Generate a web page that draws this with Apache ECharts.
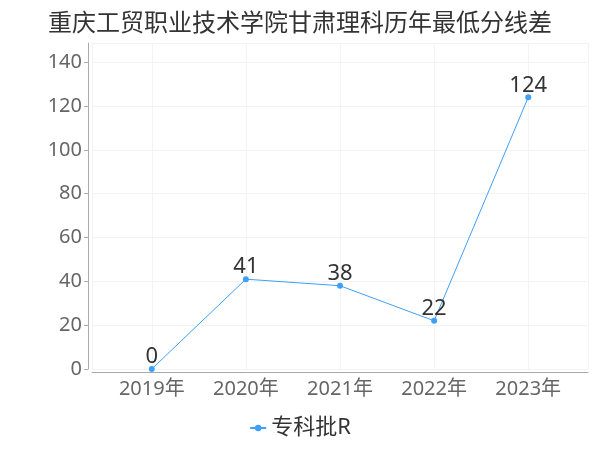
<!DOCTYPE html>
<html>
<head>
<meta charset="utf-8">
<script src="https://cdn.jsdelivr.net/npm/echarts@6/dist/echarts.min.js"></script>
<style>html,body{margin:0;padding:0;background:#fff}#c{width:600px;height:450px}</style>
</head>
<body>
<div id="c"></div>
<script>
var titleText = '重庆工贸职业技术学院甘肃理科历年最低分线差';
var categories = ['2019年', '2020年', '2021年', '2022年', '2023年'];
var seriesName = '专科批R';
var values = [0, 41, 38, 22, 124];
var yMax = 148.8;

var chart = echarts.init(document.getElementById('c'));
var pts = values.map(function (v, i) { return [i, v]; });
chart.setOption({
  animation: false,
  backgroundColor: '#fff',
  title: {
    text: titleText,
    left: 'center',
    top: 5,
    textStyle: { fontSize: 24, fontWeight: 'normal', color: '#333', fontFamily: 'Noto Sans CJK SC' }
  },
  legend: {
    bottom: 6,
    left: 'center',
    itemWidth: 16,
    itemHeight: 8,
    textStyle: { fontSize: 22, color: '#333', fontFamily: 'Noto Sans, Noto Sans CJK SC' },
    data: [seriesName]
  },
  grid: { left: 92, right: 12, top: 43, bottom: 81, containLabel: false },
  xAxis: {
    type: 'value',
    min: -0.635,
    max: 4.635,
    offset: 3,
    axisLine: { show: true, onZero: false, lineStyle: { color: '#aaa' } },
    axisTick: { show: false },
    splitLine: { show: true, lineStyle: { color: '#f3f3f3' } },
    axisLabel: {
      showMinLabel: false, showMaxLabel: false,
      fontSize: 20, color: '#666', margin: 7, fontFamily: 'Noto Sans, Noto Sans CJK SC',
      formatter: function (v) { return Number.isInteger(v) ? categories[v] : ''; }
    }
  },
  yAxis: {
    type: 'value',
    min: 0,
    max: yMax,
    interval: 20,
    offset: 4,
    axisLine: { show: true, onZero: false, lineStyle: { color: '#aaa' } },
    axisTick: { show: true, length: 4, lineStyle: { color: '#aaa' } },
    splitLine: { show: true, lineStyle: { color: '#f3f3f3' } },
    axisLabel: {
      showMaxLabel: false,
      fontSize: 20, color: '#666', margin: 6, fontFamily: 'Noto Sans'
    }
  },
  series: [{
    name: seriesName,
    type: 'line',
    data: pts,
    symbol: 'circle',
    symbolSize: 6,
    itemStyle: { color: '#3ea0f7' },
    lineStyle: { width: 1, color: '#3ea0f7' },
    label: {
      show: true,
      position: 'top',
      distance: -2,
      fontSize: 22,
      color: '#333',
      fontFamily: 'Noto Sans',
      formatter: function (p) { return p.value[1]; }
    }
  }]
});
</script>
</body>
</html>
